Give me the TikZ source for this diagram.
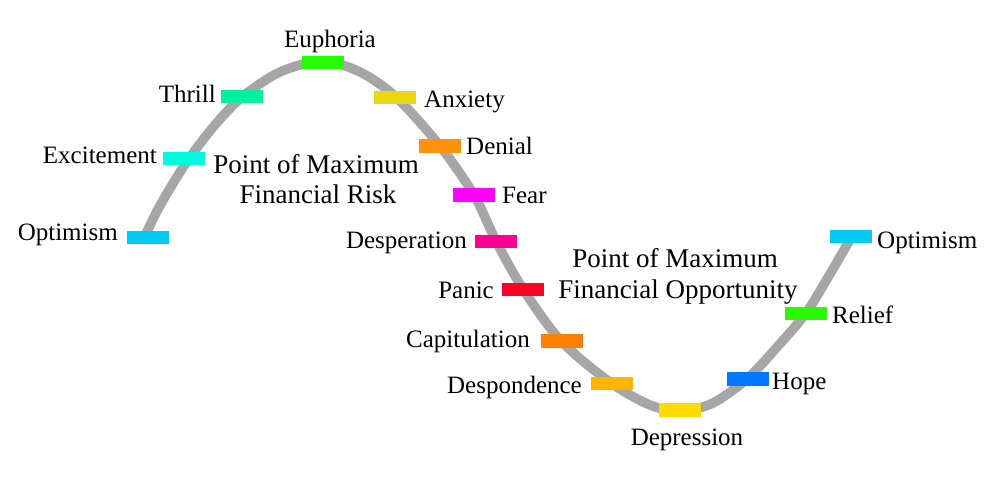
\documentclass[tikz,border=0pt]{standalone}
\usepackage{fontspec}
\setmainfont{Liberation Serif}
\begin{document}
\begin{tikzpicture}[x=1pt,y=-1pt,
  bar/.style={minimum width=42pt,minimum height=13.5pt,inner sep=0pt,draw=none},
  lbl/.style={inner sep=0pt,font=\fontsize{25}{28}\selectfont},
  big/.style={inner sep=0pt,font=\fontsize{27}{30}\selectfont},
  curve/.style={line width=9.5pt,draw={rgb,255:red,166;green,166;blue,166}}]
\useasboundingbox[fill=white] (0,0) rectangle (1000,493);
\definecolor{cOpt}{RGB}{0,202,242}
\definecolor{cExc}{RGB}{0,250,222}
\definecolor{cThr}{RGB}{0,240,160}
\definecolor{cEup}{RGB}{36,255,0}
\definecolor{cAnx}{RGB}{234,216,16}
\definecolor{cDen}{RGB}{255,146,12}
\definecolor{cFea}{RGB}{255,0,255}
\definecolor{cDes}{RGB}{255,0,150}
\definecolor{cPan}{RGB}{255,0,36}
\definecolor{cCap}{RGB}{255,128,0}
\definecolor{cDsp}{RGB}{255,182,0}
\definecolor{cDep}{RGB}{255,220,0}
\definecolor{cHop}{RGB}{0,120,255}
\definecolor{cRel}{RGB}{40,250,0}
% curve
\draw[curve] plot[smooth,tension=0.5] coordinates {
 (144,238) (156,213) (169,190) (188,160) (214,126) (242,97) (280,72) (322,61) (360,72) (396,97)
 (440,146) (474,195) (496,241) (523,289) (561,341) (611,383) (650,405) (680,411) (713,403)
 (748,378) (778,346) (806,313) (830,274) (852,236)};
% bars
\node[bar,fill=cOpt] (b1) at (148,237.5) {};
\node[bar,fill=cExc] (b2) at (184,158.5) {};
\node[bar,fill=cThr] (b3) at (242,96.5) {};
\node[bar,fill=cEup] (b4) at (322.5,62.5) {};
\node[bar,fill=cAnx] (b5) at (395,97.5) {};
\node[bar,fill=cDen] (b6) at (440,146) {};
\node[bar,fill=cFea] (b7) at (474,195) {};
\node[bar,fill=cDes] (b8) at (496,241.5) {};
\node[bar,fill=cPan] (b9) at (523,289.5) {};
\node[bar,fill=cCap] (b10) at (561.5,341) {};
\node[bar,fill=cDsp] (b11) at (611.5,383.5) {};
\node[bar,fill=cDep] (b12) at (680,410) {};
\node[bar,fill=cHop] (b13) at (747.5,379) {};
\node[bar,fill=cRel] (b14) at (806,313.5) {};
\node[bar,fill=cOpt] (b15) at (850.5,236.5) {};
% labels
\node[lbl,anchor=base east] (l1) at (118,240) {Optimism};
\node[lbl,anchor=base east] (l2) at (157,163) {Excitement};
\node[lbl,anchor=base east] (l3) at (216,102) {Thrill};
\node[lbl,anchor=base] (l4) at (330,47) {Euphoria};
\node[lbl,anchor=base west] (l5) at (424,107) {Anxiety};
\node[lbl,anchor=base west] (l6) at (466,154) {Denial};
\node[lbl,anchor=base west] (l7) at (502,203) {Fear};
\node[lbl,anchor=base east] (l8) at (467,248) {Desperation};
\node[lbl,anchor=base east] (l9) at (494,298) {Panic};
\node[lbl,anchor=base east] (l10) at (530,347) {Capitulation};
\node[lbl,anchor=base east] (l11) at (582,393) {Despondence};
\node[lbl,anchor=base] (l12) at (687,445) {Depression};
\node[lbl,anchor=base west] (l13) at (772,389) {Hope};
\node[lbl,anchor=base west] (l14) at (832,323) {Relief};
\node[lbl,anchor=base west] (l15) at (877,248) {Optimism};
% titles
\node[big,anchor=base] (r1) at (316,173) {Point of Maximum};
\node[big,anchor=base] (r2) at (318,203) {Financial Risk};
\node[big,anchor=base] (o1) at (675,267) {Point of Maximum};
\node[big,anchor=base] (o2) at (678,298) {Financial Opportunity};
\end{tikzpicture}
\end{document}
